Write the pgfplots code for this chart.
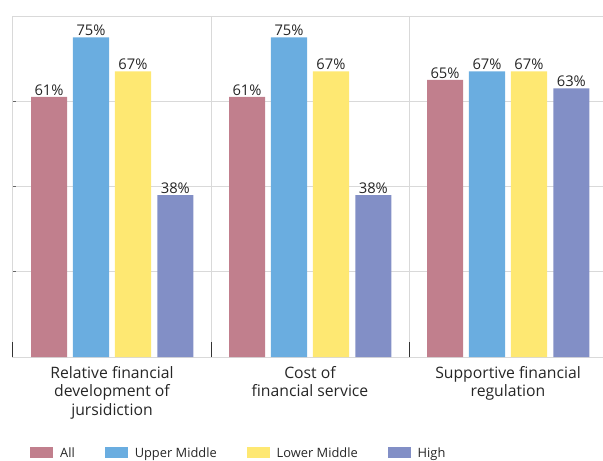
\documentclass[border=0pt]{standalone}
\usepackage{pgfplots}
\pgfplotsset{compat=1.18}
\usepackage{fontspec}
\setmainfont{Open Sans}
\definecolor{cAll}{RGB}{193,127,141}
\definecolor{cUpper}{RGB}{106,173,224}
\definecolor{cLower}{RGB}{254,232,114}
\definecolor{cHigh}{RGB}{130,143,198}
\definecolor{txt}{RGB}{38,38,38}
\definecolor{gridc}{RGB}{217,217,217}
\begin{document}
\begin{tikzpicture}
\begin{axis}[
  at={(0,0)}, anchor=south west,
  scale only axis, width=594bp, height=341bp,
  xmin=-0.5, xmax=2.5, ymin=0, ymax=80,
  clip=false,
  /pgf/number format/assume math mode=true,
  tick align=inside,
  xtick pos=bottom, ytick pos=left,
  xtick={0,1,2},
  xticklabels={{Relative financial\\development of\\jursidiction},{Cost of\\financial service},{Supportive financial\\regulation}},
  xticklabel style={align=center, font=\fontsize{15.8}{18.5}\selectfont, text=txt, yshift=-3bp},
  major x tick style={draw=none},
  minor xtick={-0.5,0.5,1.5},
  minor tick length=0bp,
  xminorgrids, minor grid style={draw=gridc, line width=1bp},
  ytick={20,40,60,80}, yticklabels={},
  ymajorgrids, major grid style={draw=gridc, line width=1bp},
  major tick length=3bp,
  major y tick style={draw=black!60, line width=1bp},
  axis line style={draw=gridc, line width=1bp},
  ybar, bar width=0.182,
  nodes near coords={\pgfmathprintnumber{\pgfplotspointmeta}\%},
  every node near coord/.append style={font=\fontsize{14.8}{16}\selectfont, text=txt, inner sep=1bp, yshift=0.5bp},
  legend style={at={(0.0235,-0.2815)}, anchor=west, draw=none, fill=none,
    legend columns=-1, font=\fontsize{12.9}{16}\selectfont, text=txt,
    /tikz/every even column/.append style={column sep=28bp},
    /tikz/every odd column/.append style={column sep=5bp}},
  legend image code/.code={\fill[#1] (0bp,-5.5bp) rectangle (23bp,5.5bp);},
]
\addplot[draw=none, fill=cAll, bar shift=-0.318] coordinates {(0,61) (1,61) (2,65)};
\addplot[draw=none, fill=cUpper, bar shift=-0.106] coordinates {(0,75) (1,75) (2,67)};
\addplot[draw=none, fill=cLower, bar shift=0.106] coordinates {(0,67) (1,67) (2,67)};
\addplot[draw=none, fill=cHigh, bar shift=0.32] coordinates {(0,38) (1,38) (2,63)};
\legend{All, Upper Middle, Lower Middle, High}
\draw[black!80, line width=1bp] (axis cs:-0.5,0) -- ([yshift=15bp]axis cs:-0.5,0);
\draw[black!80, line width=1bp] (axis cs:0.5,0) -- ([yshift=15bp]axis cs:0.5,0);
\draw[black!80, line width=1bp] (axis cs:1.5,0) -- ([yshift=15bp]axis cs:1.5,0);
\end{axis}
\pgfresetboundingbox
\path (-13bp,-104bp) rectangle (590bp,357bp);
\end{tikzpicture}
\end{document}
